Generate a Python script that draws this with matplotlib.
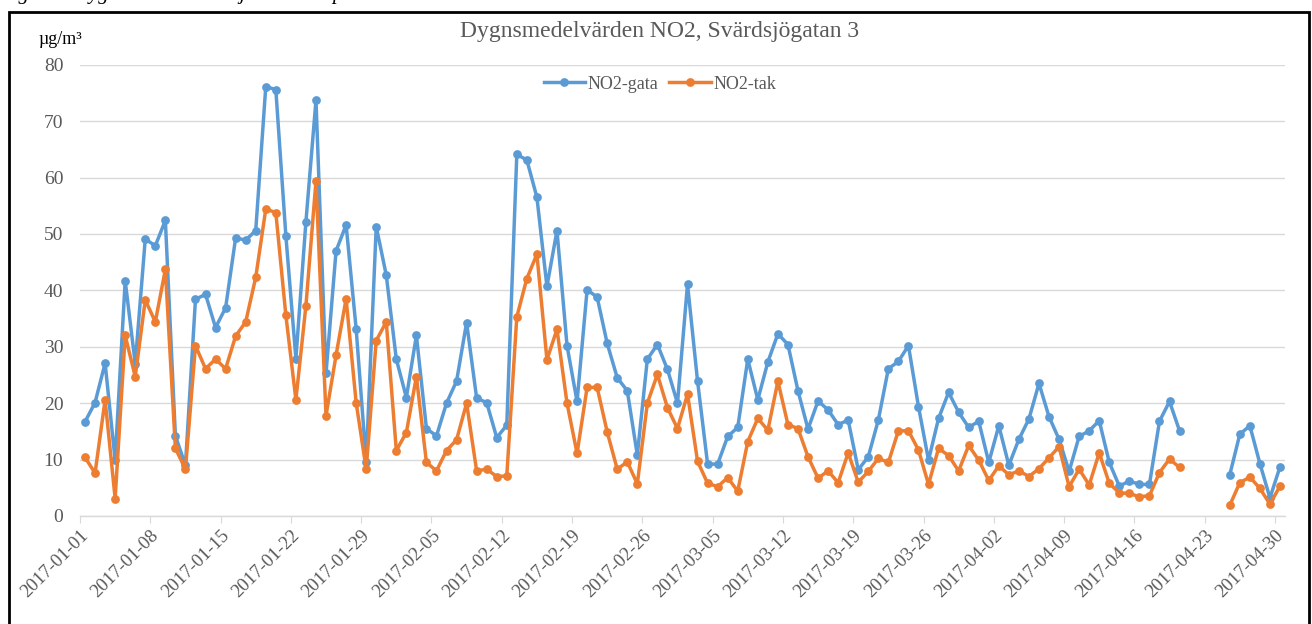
import numpy as np
import pandas as pd
import matplotlib
matplotlib.use("Agg")
import matplotlib.pyplot as plt
from matplotlib.patches import Rectangle

nan = np.nan

start_date = "2017-01-01"
n_days = 120

series_names = ["NO2-gata", "NO2-tak"]

no2_gata = [16.7, 20.1, 27.1, 9.9, 41.7, 27.0, 49.1, 47.9, 52.4, 14.2,
            9.0, 38.4, 39.3, 33.4, 36.9, 49.3, 48.9, 50.6, 76.1, 75.6,
            49.7, 27.9, 52.2, 73.7, 25.3, 47.0, 51.6, 33.2, 9.6, 51.3,
            42.7, 27.8, 21.0, 32.0, 15.5, 14.2, 20.0, 23.9, 34.3, 20.9,
            20.1, 13.9, 16.1, 64.1, 63.1, 56.5, 40.7, 50.6, 30.2, 20.3,
            40.1, 38.8, 30.6, 24.5, 22.2, 10.8, 27.8, 30.4, 26.0, 20.0,
            41.1, 23.9, 9.2, 9.2, 14.1, 15.7, 27.8, 20.6, 27.3, 32.3,
            30.4, 22.2, 15.4, 20.4, 18.8, 16.2, 17.0, 8.2, 10.5, 17.0,
            26.1, 27.4, 30.2, 19.4, 9.9, 17.3, 21.9, 18.4, 15.7, 16.8,
            9.5, 16.0, 9.0, 13.6, 17.2, 23.5, 17.6, 13.6, 7.9, 14.1,
            15.1, 16.9, 9.5, 5.3, 6.2, 5.6, 5.6, 16.8, 20.3, 15.1,
            nan, nan, nan, nan, 7.3, 14.5, 16.0, 9.3, 3.2, 8.7]

no2_tak = [10.4, 7.6, 20.6, 3.1, 32.0, 24.7, 38.3, 34.4, 43.7, 12.0,
           8.3, 30.2, 26.1, 27.8, 26.1, 31.9, 34.4, 42.3, 54.4, 53.8,
           35.6, 20.6, 37.3, 59.4, 17.8, 28.5, 38.5, 20.1, 8.3, 31.1,
           34.4, 11.6, 14.8, 24.7, 9.5, 8.0, 11.6, 13.5, 20.0, 8.0,
           8.3, 7.0, 7.1, 35.3, 42.1, 46.4, 27.7, 33.1, 20.0, 11.1,
           22.8, 22.8, 14.9, 8.3, 9.6, 5.7, 20.0, 25.1, 19.2, 15.5,
           21.6, 9.7, 5.8, 5.2, 6.8, 4.4, 13.2, 17.3, 15.2, 23.9,
           16.2, 15.5, 10.5, 6.7, 8.0, 5.9, 11.2, 6.0, 7.9, 10.2,
           9.5, 15.1, 15.1, 11.7, 5.6, 12.0, 10.7, 8.0, 12.5, 9.9,
           6.3, 8.9, 7.3, 8.0, 7.0, 8.4, 10.3, 12.3, 5.2, 8.3,
           5.5, 11.2, 5.8, 4.1, 4.0, 3.4, 3.6, 7.7, 10.1, 8.6,
           nan, nan, nan, nan, 1.9, 5.9, 6.9, 4.9, 2.1, 5.3]

y_ticks = [0, 10, 20, 30, 40, 50, 60, 70, 80]
title = "Dygnsmedelvärden NO2, Svärdsjögatan 3"
unit_label = "µg/m³"
caption = "Figur 2. Dygnsmedelvärden januari – april 2017"

colors = ["#5B9BD5", "#ED7D31"]
grid_col = "#D9D9D9"
text_col = "#595959"
serif = ["Liberation Serif", "DejaVu Serif"]

dates = pd.date_range(start_date, periods=n_days, freq="D")
x = dates + pd.Timedelta(hours=12)

W, H = 1312, 624
fig = plt.figure(figsize=(W / 100, H / 100), dpi=100)
ax = fig.add_axes([80 / W, 1 - 516 / H, (1285 - 80) / W, (516 - 64.7) / H])

for name, vals, c in zip(series_names, [no2_gata, no2_tak], colors):
    ax.plot(x, vals, color=c, lw=2.5, marker="o", markersize=6.3,
            markeredgewidth=0, label=name, solid_joinstyle="round")

ax.set_ylim(0, 80)
ax.set_yticks(y_ticks)
ax.set_xlim(dates[0], dates[-1] + pd.Timedelta(days=1))
xt = dates[::7]
ax.set_xticks(xt)
ax.set_xticklabels([d.strftime("%Y-%m-%d") for d in xt], rotation=45,
                   ha="right", va="top", rotation_mode="anchor",
                   family=serif, fontsize=13.5, color=text_col)
for lbl in ax.get_yticklabels():
    lbl.set_family(serif)
    lbl.set_fontsize(14)
    lbl.set_color(text_col)

ax.grid(axis="y", color=grid_col, lw=1)
ax.set_axisbelow(True)
for s in ["top", "right", "left"]:
    ax.spines[s].set_visible(False)
ax.spines["bottom"].set_color(grid_col)
ax.spines["bottom"].set_linewidth(1)
ax.tick_params(axis="x", length=5, color=grid_col, pad=3)
ax.tick_params(axis="y", length=0, pad=12)

leg = ax.legend(loc="upper center", bbox_to_anchor=((660 - 80) / 1205, 1.012),
                ncol=2, frameon=False, prop={"family": serif, "size": 13},
                handlelength=2.3, columnspacing=0.6, handletextpad=0.15)
for t in leg.get_texts():
    t.set_color(text_col)

fig.text(660 / W, 1 - 31 / H, title, ha="center", va="center",
         family=serif, fontsize=17, color=text_col)
fig.text(38 / W, 1 - 39 / H, unit_label, ha="left", va="center",
         family=serif, fontsize=13, color="black")
fig.text(0.0, 1 + 1 / H, caption, ha="left", va="baseline",
         family=serif, style="italic", fontsize=15, color="black")

fig.patches.append(Rectangle((9 / W, -0.05), (1309 - 9) / W, 1.05 - 12 / H,
                             transform=fig.transFigure, fill=False,
                             edgecolor="black", lw=2.0))

fig.savefig("out.png", dpi=100)
